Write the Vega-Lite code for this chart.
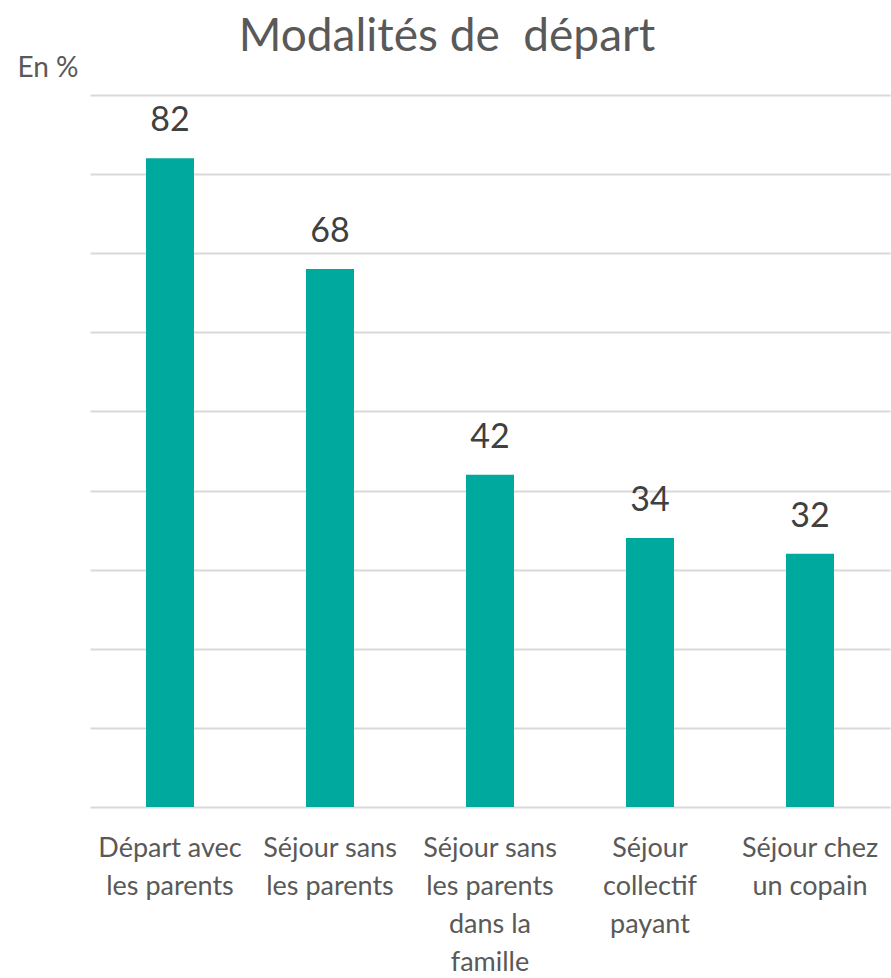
{
  "$schema": "https://vega.github.io/schema/vega-lite/v6.json",
  "width": 800,
  "height": 712,
  "autosize": {"type": "none"},
  "padding": {"left": 90, "top": 95, "right": 1, "bottom": 171},
  "background": "white",
  "title": {
    "text": "Modalités de\u00a0 départ",
    "fontSize": 46,
    "font": "Lato",
    "fontWeight": "normal",
    "color": "#595959",
    "anchor": "middle",
    "dx": -43,
    "dy": 47,
    "offset": 40
  },
  "data": {
    "values": [
      {"modalite": "Départ avec|les parents", "pct": 82},
      {"modalite": "Séjour sans|les parents", "pct": 68},
      {"modalite": "Séjour sans|les parents|dans la|famille", "pct": 42},
      {"modalite": "Séjour|collectif|payant", "pct": 34},
      {"modalite": "Séjour chez|un copain", "pct": 32}
    ]
  },
  "encoding": {
    "x": {
      "field": "modalite",
      "type": "nominal",
      "sort": null,
      "scale": {"paddingInner": 0.7, "paddingOuter": 0.35},
      "axis": {
        "title": null,
        "labelAngle": 0,
        "labelExpr": "split(datum.label, '|')",
        "labelFont": "Lato",
        "labelFontSize": 27,
        "labelColor": "#595959",
        "labelLineHeight": 38,
        "labelBaseline": "top",
        "labelPadding": 28,
        "labelLimit": 0,
        "ticks": false,
        "domain": false
      }
    },
    "y": {
      "field": "pct",
      "type": "quantitative",
      "scale": {"domain": [0, 90], "nice": false},
      "axis": {
        "values": [0, 10, 20, 30, 40, 50, 60, 70, 80, 90],
        "labels": false,
        "ticks": false,
        "domain": false,
        "grid": true,
        "gridColor": "#d9d9d9",
        "gridWidth": 2,
        "title": "En %",
        "titleAngle": 0,
        "titleAlign": "left",
        "titleBaseline": "middle",
        "titleX": -73,
        "titleY": -27,
        "titleFont": "Lato",
        "titleFontSize": 28,
        "titleFontWeight": "normal",
        "titleColor": "#595959"
      }
    }
  },
  "layer": [
    {"mark": {"type": "bar", "color": "#00A99D"}},
    {
      "mark": {
        "type": "text",
        "baseline": "bottom",
        "dy": -20,
        "font": "Lato",
        "fontSize": 34,
        "color": "#404040"
      },
      "encoding": {"text": {"field": "pct", "type": "quantitative"}}
    }
  ],
  "config": {"view": {"stroke": null}}
}
